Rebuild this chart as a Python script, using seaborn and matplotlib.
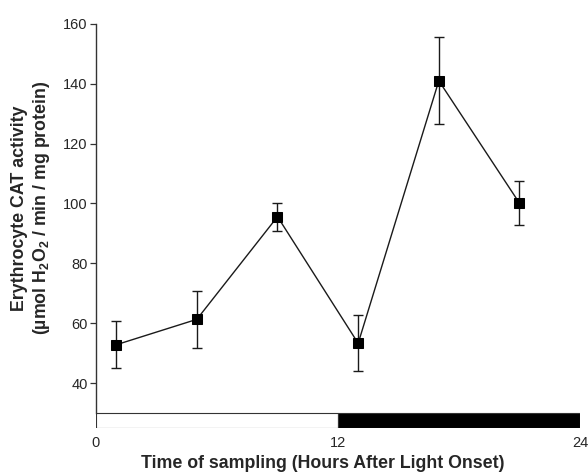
import numpy as np
import pandas as pd
import matplotlib
matplotlib.use("Agg")
import matplotlib.pyplot as plt
import seaborn as sns

# -- Data --------------------------------------
hours    = [1, 5, 9, 13, 17, 21]
cat_mean = [52.8, 61.3, 95.6, 53.3, 141.0, 100.1]
cat_err  = [7.8, 9.5, 4.7, 9.4, 14.6, 7.3]

phase_start = [0, 12]
phase_len   = [12, 12]
phase_color = ["white", "black"]

yticks = [40, 60, 80, 100, 120, 140, 160]
xticks = [0, 12, 24]

df = pd.DataFrame({"hours": hours, "cat": cat_mean})

sns.set_style("white")
plt.rcParams["font.family"] = ["Liberation Sans", "DejaVu Sans"]
plt.rcParams["mathtext.fontset"] = "custom"
plt.rcParams["mathtext.rm"] = "Liberation Sans"
plt.rcParams["mathtext.bf"] = "Liberation Sans:bold"

fig = plt.figure(figsize=(5.88, 4.72), dpi=100)
ax = fig.add_axes([96 / 588, 44 / 472, 484 / 588, 405 / 472])

# -- Series ------------------------------------
sns.lineplot(data=df, x="hours", y="cat", ax=ax, color="#1a1a1a",
             linewidth=1.0, marker="s", markersize=7.5,
             markerfacecolor="black", markeredgecolor="black", zorder=3)
ax.errorbar(hours, cat_mean, yerr=cat_err, fmt="none", ecolor="#1a1a1a",
            elinewidth=1.0, capsize=3.5, capthick=1.0, zorder=2)

# -- Light / dark bar --------------------------
ax.barh(y=27.5, width=phase_len, left=phase_start, height=5.0,
        color=phase_color, edgecolor="#333333", linewidth=0.8, align="center")

ax.set_xlim(0, 24)
ax.set_ylim(25, 160.3)
ax.set_yticks(yticks)
ax.set_xticks(xticks)
ax.set_xticklabels([str(t) for t in xticks])

for s in ["top", "right", "bottom"]:
    ax.spines[s].set_visible(False)
ax.spines["left"].set_bounds(30, 160)
ax.spines["left"].set_color("#333333")
ax.spines["left"].set_linewidth(1.0)

ax.tick_params(axis="y", direction="out", length=4, width=0.9,
               color="#333333", labelsize=10.5, pad=2, left=True)
ax.tick_params(axis="x", length=0, labelsize=10.5, pad=6)

ax.set_xlabel("Time of sampling (Hours After Light Onset)",
              fontsize=12.8, fontweight="bold")
ax.xaxis.set_label_coords(0.469, -0.066)
ax.set_ylabel("Erythrocyte CAT activity\n"
              r"(µmol H$_\mathbf{2}$O$_\mathbf{2}$ / min / mg protein)",
              fontsize=12.8, fontweight="bold", linespacing=1.2)
ax.yaxis.set_label_coords(-0.091, 0.543)

fig.savefig("out.png", dpi=100)
plt.close(fig)
